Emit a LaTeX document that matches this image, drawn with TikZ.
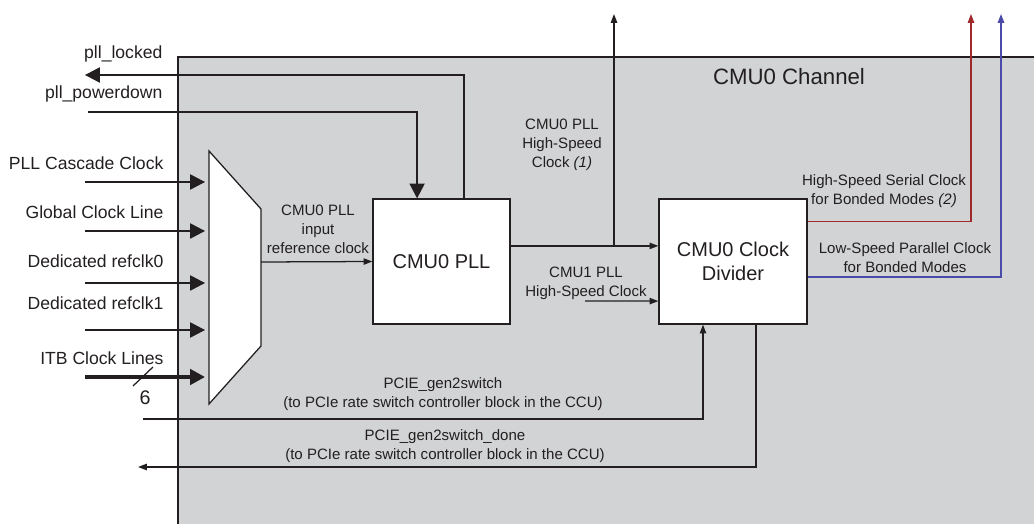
\documentclass[tikz,border=0pt]{standalone}
\usepackage{fontspec}
\setmainfont{Liberation Sans}
\usetikzlibrary{arrows.meta}
\definecolor{chgray}{HTML}{D1D3D4}
\definecolor{ink}{HTML}{231F20}
\definecolor{hsred}{HTML}{A0282A}
\definecolor{lsblue}{HTML}{4A4AA8}

\begin{document}
\begin{tikzpicture}[
  x=0.025cm, y=-0.025cm, line width=0.9pt, color=ink,
  lab/.style={font=\fontsize{12.5}{15}\selectfont, inner sep=0pt, anchor=base east},
  note/.style={font=\fontsize{10.7}{13.5}\selectfont, align=center, inner sep=0pt},
  blk/.style={draw=ink, fill=white, minimum height=3.125cm, align=center, font=\fontsize{14.2}{17}\selectfont},
  arr/.style={-{Triangle[length=2.2mm,width=1.6mm]}},
  big/.style={-{Triangle[length=3.7mm,width=3.8mm]}}]
  \useasboundingbox (0,0) rectangle (1034,524);
  % channel background, open to the right and bottom
  \fill[chgray] (178,57) rectangle (1034,524);
  \draw (178,524) |- (1034,57);
  \node[font=\fontsize{15.8}{19}\selectfont] (title) at (789,77) {CMU0 Channel};
  % input mux
  \coordinate (mtl) at (209,151); \coordinate (mtr) at (261,209);
  \coordinate (mbr) at (261,346); \coordinate (mbl) at (209,404);
  \coordinate (mout) at (261,262);
  \draw[fill=white] (mtl) -- (mtr) -- (mbr) -- (mbl) -- cycle;
  % blocks
  \node[blk, minimum width=3.425cm] (pll) at (441.5,261.5) {CMU0 PLL};
  \node[blk, minimum width=3.7cm]   (div) at (733,261.5)   {CMU0 Clock\\Divider};
  % free ends
  \coordinate (locked) at (85,75);   \coordinate (power) at (88,112);
  \coordinate (in1) at (85,182);     \coordinate (m1) at (205,182);
  \coordinate (in2) at (85,231);     \coordinate (m2) at (205,231);
  \coordinate (in3) at (85,283);     \coordinate (m3) at (205,283);
  \coordinate (in4) at (85,330);     \coordinate (m4) at (205,330);
  \coordinate (in5) at (85,377);     \coordinate (m5) at (205,377);
  \coordinate (tap) at (614,246);    \coordinate (hsout) at (614,14);
  \coordinate (cmu1) at (585,301);
  \coordinate (hsser) at (971,14);   \coordinate (lspar) at (1001,14);
  \coordinate (sw) at (143,419);     \coordinate (swdone) at (138,467);
  % pll control
  \draw[big] ([xshift=5.6mm]pll.north) |- (locked);
  \draw[big] (power) -| ([xshift=-6.1mm]pll.north);
  % clock inputs
  \draw[big] (in1) -- (m1); \draw[big] (in2) -- (m2); \draw[big] (in3) -- (m3); \draw[big] (in4) -- (m4);
  \draw[big, line width=2.8pt] (in5) -- (m5);
  \draw (133,386) -- (153,367);
  \node[font=\fontsize{14}{16}\selectfont, inner sep=0pt] (six) at (145,398) {6};
  % clock path
  \draw[arr] (mout) -- (pll.west);
  \draw[arr] ([yshift=3.9mm]pll.east) -- ([yshift=3.9mm]div.west);
  \draw[arr] (tap) -- (hsout);
  \draw[arr] (cmu1) -- ([yshift=-9.9mm]div.west);
  \draw[arr, hsred, line width=0.8pt] ([yshift=9.9mm]div.east) -| (hsser);
  \draw[arr, lsblue, line width=0.9pt] ([yshift=-3.9mm]div.east) -| (lspar);
  % rate switch
  \draw[arr] (sw) -| ([xshift=-7.5mm]div.south);
  \draw[arr] ([xshift=5.75mm]div.south) |- (swdone);
  % labels
  \node[lab] (tlocked) at (163,59)  {pll\_locked};
  \node[lab] (tpower)  at (163,99)  {pll\_powerdown};
  \node[lab] (tcasc)   at (164,170) {PLL Cascade Clock};
  \node[lab] (tglob)   at (164,219) {Global Clock Line};
  \node[lab] (tref0)   at (164,268) {Dedicated refclk0};
  \node[lab] (tref1)   at (164,310) {Dedicated refclk1};
  \node[lab] (titb)    at (164,365) {ITB Clock Lines};
  \node[note] (tref) at (318,229.5) {CMU0 PLL\\input\\reference clock};
  \node[note] (ths0) at (562,145)   {CMU0 PLL\\High-Speed\\Clock \textit{(1)}};
  \node[note] (ths1) at (586,283.5) {CMU1 PLL\\High-Speed Clock};
  \node[note] (tser) at (884,191)   {High-Speed Serial Clock\\for Bonded Modes \textit{(2)}};
  \node[note] (tpar) at (905,257.5) {Low-Speed Parallel Clock\\for Bonded Modes};
  \node[note] (tsw)  at (443,394)   {PCIE\_gen2switch\\(to PCIe rate switch controller block in the CCU)};
  \node[note] (tswd) at (445,446)   {PCIE\_gen2switch\_done\\(to PCIe rate switch controller block in the CCU)};
\end{tikzpicture}
\end{document}
